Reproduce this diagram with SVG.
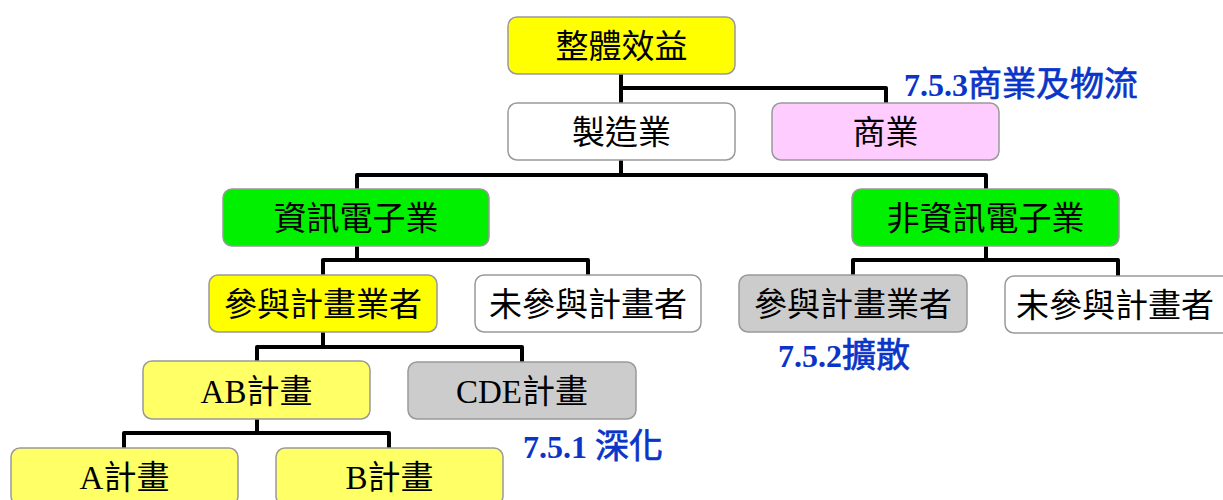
<svg xmlns="http://www.w3.org/2000/svg" width="1223" height="500" viewBox="0 0 1223 500">
<style>
.box{stroke:#999999;stroke-width:1.5}
.t{font-family:"Liberation Serif","Noto Sans CJK TC",serif;font-size:33px;fill:#000;text-anchor:middle}
.lbl{font-family:"Liberation Serif","Noto Sans CJK TC",serif;font-size:32px;font-weight:bold;fill:#0a35c8}
.cjk{font-weight:normal;font-size:34px;stroke:#0a35c8;stroke-width:0.7}
.c{fill:none;stroke:#000;stroke-width:4;stroke-linejoin:round}
.y{fill:#FFFF00}.ly{fill:#FFFF66}.w{fill:#FFFFFF}.p{fill:#FFCCFF}.g{fill:#00F000}.gr{fill:#CCCCCC}
</style>
<rect width="1223" height="500" fill="#fff"/>
<g id="connectors">
<path class="c" d="M621,74V103M621,88H886V103"/>
<path class="c" d="M621,160V175M357,189V175H986V189"/>
<path class="c" d="M357,246V260M323,275V260H588V275"/>
<path class="c" d="M986,246V260M853,275V260H1118V276"/>
<path class="c" d="M323,332V347M257,361V347H522V362"/>
<path class="c" d="M257,419V433M124,448V433H389V448"/>
</g>
<g id="n1"><rect class="box y" x="508" y="17" width="227" height="57" rx="9"/><text class="t" x="621.5" y="58">整體效益</text></g>
<g id="n2"><rect class="box w" x="508" y="103" width="227" height="57" rx="9"/><text class="t" x="621.5" y="144">製造業</text></g>
<g id="n3"><rect class="box p" x="772" y="103" width="227" height="57" rx="9"/><text class="t" x="885.5" y="144">商業</text></g>
<g id="n4"><rect class="box g" x="223" y="189" width="266" height="57" rx="9"/><text class="t" x="356" y="230">資訊電子業</text></g>
<g id="n5"><rect class="box g" x="852" y="189" width="267" height="57" rx="9"/><text class="t" x="985.5" y="230">非資訊電子業</text></g>
<g id="n6"><rect class="box y" x="209" y="275" width="228" height="57" rx="9"/><text class="t" x="323" y="316">參與計畫業者</text></g>
<g id="n7"><rect class="box w" x="475" y="275" width="226" height="57" rx="9"/><text class="t" x="588" y="316">未參與計畫者</text></g>
<g id="n8"><rect class="box gr" x="739" y="275" width="228" height="57" rx="9"/><text class="t" x="853" y="316">參與計畫業者</text></g>
<g id="n9"><rect class="box w" x="1005" y="276" width="228" height="57" rx="9"/><text class="t" x="1115" y="317">未參與計畫者</text></g>
<g id="n10"><rect class="box ly" x="143" y="361" width="227" height="58" rx="9"/><text class="t" x="256.5" y="403">AB計畫</text></g>
<g id="n11"><rect class="box gr" x="408" y="362" width="228" height="57" rx="9"/><text class="t" x="522" y="403">CDE計畫</text></g>
<g id="n12"><rect class="box ly" x="11" y="448" width="227" height="57" rx="9"/><text class="t" x="124.5" y="489">A計畫</text></g>
<g id="n13"><rect class="box ly" x="276" y="448" width="227" height="57" rx="9"/><text class="t" x="389.5" y="489">B計畫</text></g>
<g id="labels">
<text class="lbl" x="904" y="96">7.5.3<tspan class="cjk">商業及物流</tspan></text>
<text class="lbl" x="778" y="367">7.5.2<tspan class="cjk">擴散</tspan></text>
<text class="lbl" x="523" y="458">7.5.1 <tspan class="cjk">深化</tspan></text>
</g>
</svg>
